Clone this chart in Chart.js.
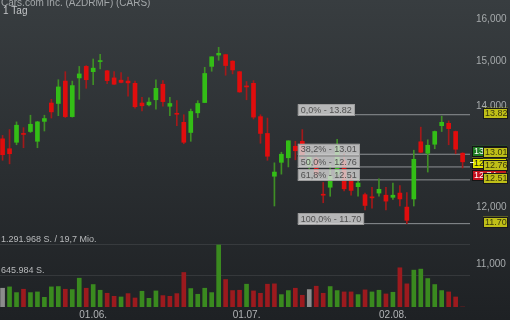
<!DOCTYPE html>
<html>
<head>
<meta charset="utf-8">
<script src="https://cdn.jsdelivr.net/npm/chart.js@4.4.1/dist/chart.umd.min.js"></script>
<style>
  html, body { margin: 0; padding: 0; background: #2b2f32; }
  #wrap { width: 510px; height: 320px; }
</style>
</head>
<body>
<div id="wrap"><canvas id="chart" width="510" height="320"></canvas></div>
<script>
(function () {
  var title = "Cars.com Inc. (A2DRMF) (CARS)";
  var period = "1 Tag";
  var turnover = "19,7 Mio.";

  // Handelstage (DD.MM.)
  var dates = [
    "12.05.", "13.05.", "14.05.", "17.05.", "18.05.", "19.05.", "20.05.", "21.05.", "24.05.", "25.05.", "26.05.", "27.05.", "28.05.",
    "01.06.", "02.06.", "03.06.", "04.06.", "07.06.", "08.06.", "09.06.", "10.06.", "11.06.", "14.06.", "15.06.", "16.06.",
    "17.06.", "18.06.", "21.06.", "22.06.", "23.06.", "24.06.", "25.06.", "28.06.", "29.06.", "30.06.",
    "01.07.", "02.07.", "06.07.", "07.07.", "08.07.", "09.07.", "12.07.", "13.07.", "14.07.", "15.07.", "16.07.",
    "19.07.", "20.07.", "21.07.", "22.07.", "23.07.", "26.07.", "27.07.", "28.07.", "29.07.", "30.07.",
    "02.08.", "03.08.", "04.08.", "05.08.", "06.08.", "09.08.", "10.08.", "11.08.", "12.08.", "13.08.", "16.08."
  ];

  var opens = [
    13.32, 13.12, 13.25, 13.43, 13.47, 13.27, 13.68, 14.07, 14.06, 14.55, 13.78, 14.62, 14.88,
    14.76, 14.99, 14.78, 14.62, 14.57, 14.55, 14.50, 14.07, 14.03, 14.14, 14.48, 14.00,
    13.85, 13.66, 13.45, 13.86, 14.08, 14.88, 15.14, 15.15, 15.00, 14.76,
    14.44, 14.50, 13.78, 13.43, 12.58, 12.85, 12.94, 13.17, 13.27, 12.78, 12.92,
    12.23, 12.37, 12.62, 12.88, 12.51, 12.38, 12.23, 12.19, 12.26, 12.22,
    12.18, 12.26, 12.00, 12.15, 13.26, 13.03, 13.21, 13.59, 13.64, 13.47, 13.03
  ];
  var highs = [
    13.39, 13.51, 13.67, 13.55, 13.81, 13.68, 13.81, 14.15, 14.58, 14.76, 14.55, 14.88, 14.90,
    15.05, 15.16, 14.79, 14.76, 14.74, 14.64, 14.55, 14.19, 14.18, 14.58, 14.56, 14.19,
    14.12, 13.82, 13.94, 14.12, 14.86, 15.10, 15.32, 15.16, 15.01, 14.77,
    14.54, 14.56, 13.82, 13.75, 12.84, 13.05, 13.28, 13.27, 13.51, 13.02, 13.00,
    12.46, 12.80, 13.31, 13.02, 12.60, 12.53, 12.26, 12.37, 12.53, 12.37,
    12.45, 12.40, 12.27, 13.09, 13.56, 13.30, 13.48, 13.79, 13.69, 13.48, 13.04
  ];
  var lows = [
    12.89, 12.82, 13.20, 13.14, 13.45, 13.14, 13.48, 13.75, 13.80, 13.76, 13.77, 14.15, 14.39,
    14.47, 14.82, 14.49, 14.47, 14.51, 14.22, 13.96, 13.90, 14.01, 13.94, 14.00, 13.80,
    13.59, 13.22, 13.27, 13.76, 14.08, 14.77, 15.02, 14.68, 14.71, 14.30,
    14.14, 13.73, 13.23, 12.89, 12.02, 12.62, 12.76, 12.90, 12.90, 12.72, 12.55,
    12.08, 12.20, 12.55, 12.30, 12.22, 12.20, 11.95, 11.98, 12.20, 11.95,
    12.14, 12.02, 11.70, 12.02, 13.04, 12.66, 13.12, 13.47, 13.20, 13.02, 12.74
  ];
  var closes = [
    13.00, 13.02, 13.60, 13.41, 13.62, 13.67, 13.74, 13.88, 14.42, 13.78, 14.45, 14.71, 14.58,
    14.84, 15.01, 14.56, 14.48, 14.52, 14.51, 13.99, 14.01, 14.09, 14.39, 14.10, 14.06,
    13.83, 13.25, 13.89, 14.06, 14.72, 15.10, 15.18, 14.90, 14.80, 14.31,
    14.42, 13.77, 13.43, 12.97, 12.66, 13.01, 13.28, 13.08, 12.95, 12.95, 12.62,
    12.22, 12.58, 13.18, 12.34, 12.31, 12.45, 12.03, 12.17, 12.33, 12.11,
    12.22, 12.15, 11.76, 12.91, 13.05, 13.19, 13.47, 13.66, 13.53, 13.11, 12.86
  ];
  var volumes = [
    391000, 419000, 300000, 370000, 300000, 314000, 202000, 419000, 426000, 370000, 363000, 600000, 391000,
    468000, 349000, 286000, 223000, 209000, 279000, 188000, 328000, 181000, 335000, 237000, 223000,
    279000, 719000, 384000, 265000, 391000, 300000, 1291968, 572000, 342000, 349000,
    475000, 335000, 286000, 475000, 482000, 258000, 342000, 391000, 244000, 363000, 433000,
    286000, 426000, 342000, 314000, 314000, 258000, 356000, 314000, 349000, 272000,
    307000, 817000, 482000, 768000, 789000, 593000, 468000, 342000, 314000, 209000, 0
  ];

  // Fibonacci-Retracement
  var fibPcts = ["0,0%", "38,2%", "50,0%", "61,8%", "100,0%"];
  var fibLevels = [13.82, 13.01, 12.76, 12.51, 11.70];
  var fibFrom = 42.35;

  var priceTicks = [11, 12, 13, 14, 15, 16];
  var xMin = -0.37, xMax = 67.06;

  var last = closes.length - 1;
  var volMax = Math.max.apply(null, volumes);

  var monthStarts = [];
  dates.forEach(function (d, i) {
    if (i > 0 && d.slice(3, 5) !== dates[i - 1].slice(3, 5)) monthStarts.push(i);
  });

  var GREEN = "#33be16", RED = "#e00d0d";
  var bodyColors = opens.map(function (o, i) { return closes[i] >= o ? GREEN : RED; });
  var wickColors = opens.map(function (o, i) { return closes[i] >= o ? "#3f8f25" : "#a3191a"; });
  var volColors = volumes.map(function (v, i) {
    if (i === 0 || closes[i] === closes[i - 1]) return "#8c8c8c";
    return closes[i] > closes[i - 1] ? "#3a8a1f" : "#9c1a1e";
  });

  function dots(n) {
    return String(Math.round(n)).replace(/\B(?=(\d{3})+(?!\d))/g, ".");
  }

  // no extra room for half tick labels at the ends of the axes
  function noPad(scale) {
    scale.paddingTop = 0;
    scale.paddingBottom = 0;
    scale.paddingLeft = 0;
    scale.paddingRight = 0;
  }

  var fibSets = fibLevels.map(function (lvl) {
    return {
      type: "line",
      data: [{ x: fibFrom, y: lvl }, { x: xMax, y: lvl }],
      yAxisID: "y",
      borderColor: "#8d9194",
      borderWidth: 1,
      pointRadius: 0,
      order: 3
    };
  });

  function box(ctx, x, y, w, h, fill, stroke) {
    ctx.fillStyle = fill;
    ctx.fillRect(x, y, w, h);
    if (stroke) {
      ctx.strokeStyle = stroke;
      ctx.lineWidth = 1;
      ctx.strokeRect(Math.round(x) + 0.5, Math.round(y) + 0.5, Math.round(w) - 1, Math.round(h) - 1);
    }
  }

  var overlay = {
    id: "overlay",
    beforeDraw: function (chart) {
      var ctx = chart.ctx;
      var g = ctx.createLinearGradient(0, 0, 0, chart.height);
      g.addColorStop(0, "#383d40");
      g.addColorStop(1, "#1e2124");
      ctx.save();
      ctx.fillStyle = g;
      ctx.fillRect(0, 0, chart.width, chart.height);
      ctx.restore();
    },
    beforeDatasetsDraw: function (chart) {
      var ctx = chart.ctx;
      var y2 = chart.scales.y2;
      ctx.save();
      ctx.font = '10px "Liberation Sans", Arial, sans-serif';
      ctx.textBaseline = "alphabetic";
      ctx.fillStyle = "#a4a8aa";
      ctx.fillText(title, 1, 6);
      ctx.fillStyle = "#c4c6c8";
      ctx.fillText(period, 3, 13.5);
      ctx.font = '9px "Liberation Sans", Arial, sans-serif';
      ctx.fillStyle = "#b8babc";
      ctx.fillText(dots(volMax) + " S. / " + turnover, 1, y2.getPixelForValue(volMax) - 3);
      ctx.fillText(dots(volMax / 2) + " S.", 1, y2.getPixelForValue(volMax / 2) - 3);
      ctx.restore();
    },
    afterDraw: function (chart) {
      var ctx = chart.ctx;
      var ys = chart.scales.y;
      var xs = chart.scales.x;
      var right = chart.chartArea.right;
      ctx.save();
      ctx.font = '9px "Liberation Sans", Arial, sans-serif';
      ctx.textBaseline = "middle";

      // Fibonacci-Beschriftungen links
      var fx = xs.getPixelForValue(fibFrom);
      fibLevels.forEach(function (lvl, i) {
        var py = ys.getPixelForValue(lvl);
        var txt = fibPcts[i] + " - " + lvl.toFixed(2);
        var w = ctx.measureText(txt).width + 6;
        box(ctx, fx, py - 10.5, w, 11.5, "rgba(214,214,214,0.82)", "#9c9c9c");
        ctx.fillStyle = "#505050";
        ctx.fillText(txt, fx + 3, py - 4.5);
      });

      // Kursmarken der letzten Kerze (Hoch / Schluss / Tief)
      var tags = [
        { v: highs[last], fill: "#1f7a22", text: "#ffffff" },
        { v: closes[last], fill: "#e6e600", text: "#202020" },
        { v: lows[last], fill: "#c4101e", text: "#ffffff" }
      ];
      var prevBottom = -1e9;
      tags.forEach(function (t) {
        var top = Math.max(ys.getPixelForValue(t.v) - 7, prevBottom + 1);
        box(ctx, right + 2, top, 35, 11, t.fill, "#151515");
        ctx.fillStyle = t.text;
        ctx.fillText(t.v.toFixed(2), right + 4, top + 5.5);
        prevBottom = top + 11;
      });

      // Fibonacci-Preisschilder rechts
      fibLevels.forEach(function (lvl) {
        var top = ys.getPixelForValue(lvl) - 7;
        box(ctx, right + 13, top, 25, 11, "#bfbf18", "#1a1a1a");
        ctx.fillStyle = "#3a3a0c";
        ctx.fillText(lvl.toFixed(2), right + 15, top + 5.5);
      });

      // aktueller Kurs
      ctx.strokeStyle = "#e8e8e8";
      ctx.lineWidth = 1;
      var cy = Math.round(ys.getPixelForValue(closes[last])) + 0.5;
      ctx.beginPath();
      ctx.moveTo(right, cy);
      ctx.lineTo(right + 4, cy);
      ctx.stroke();
      ctx.restore();
    }
  };

  Chart.defaults.font.family = '"Liberation Sans", Arial, sans-serif';

  new Chart(document.getElementById("chart"), {
    type: "bar",
    data: {
      datasets: [
        {
          label: "Volumen",
          data: volumes.map(function (v, i) { return { x: i, y: v }; }),
          yAxisID: "y2",
          backgroundColor: volColors,
          barThickness: 4,
          grouped: false,
          order: 4
        }
      ].concat(fibSets).concat([
        {
          label: "Docht",
          data: lows.map(function (l, i) { return { x: i, y: [l, highs[i]] }; }),
          yAxisID: "y",
          backgroundColor: wickColors,
          barThickness: 1,
          grouped: false,
          order: 2
        },
        {
          label: "Kerze",
          data: opens.map(function (o, i) { return { x: i, y: [o, closes[i]] }; }),
          yAxisID: "y",
          backgroundColor: bodyColors,
          barThickness: 4,
          minBarLength: 1,
          grouped: false,
          order: 1
        }
      ])
    },
    options: {
      responsive: false,
      animation: false,
      events: [],
      layout: { padding: 0 },
      plugins: { legend: { display: false }, tooltip: { enabled: false } },
      scales: {
        x: {
          type: "linear",
          min: xMin,
          max: xMax,
          offset: false,
          grid: { display: false, drawTicks: false },
          border: { display: false },
          afterBuildTicks: function (scale) {
            scale.ticks = monthStarts.map(function (v) { return { value: v }; });
          },
          afterFit: function (scale) { scale.height = 13; noPad(scale); },
          ticks: {
            color: "#b2b4b6",
            font: { size: 10 },
            padding: 2,
            maxRotation: 0,
            autoSkip: false,
            callback: function (v) { return dates[v]; }
          }
        },
        y: {
          type: "logarithmic",
          position: "right",
          min: 10.31,
          max: 16.47,
          grid: { display: false, drawTicks: false },
          border: { display: false },
          afterBuildTicks: function (scale) {
            scale.ticks = priceTicks.map(function (v) { return { value: v }; });
          },
          afterFit: function (scale) { scale.width = 40; noPad(scale); },
          ticks: {
            color: "#a6aaac",
            font: { size: 10 },
            padding: 6,
            callback: function (v) { return Number(v).toFixed(3).replace(".", ","); }
          }
        },
        y2: {
          type: "linear",
          position: "left",
          min: 0,
          max: volMax * 4.95,
          grid: { color: "rgba(255,255,255,0.09)", drawTicks: false },
          border: { display: false },
          afterBuildTicks: function (scale) {
            scale.ticks = [{ value: volMax / 2 }, { value: volMax }];
          },
          afterFit: function (scale) { scale.width = 0; noPad(scale); },
          ticks: { display: false }
        }
      }
    },
    plugins: [overlay]
  });
})();
</script>
</body>
</html>
